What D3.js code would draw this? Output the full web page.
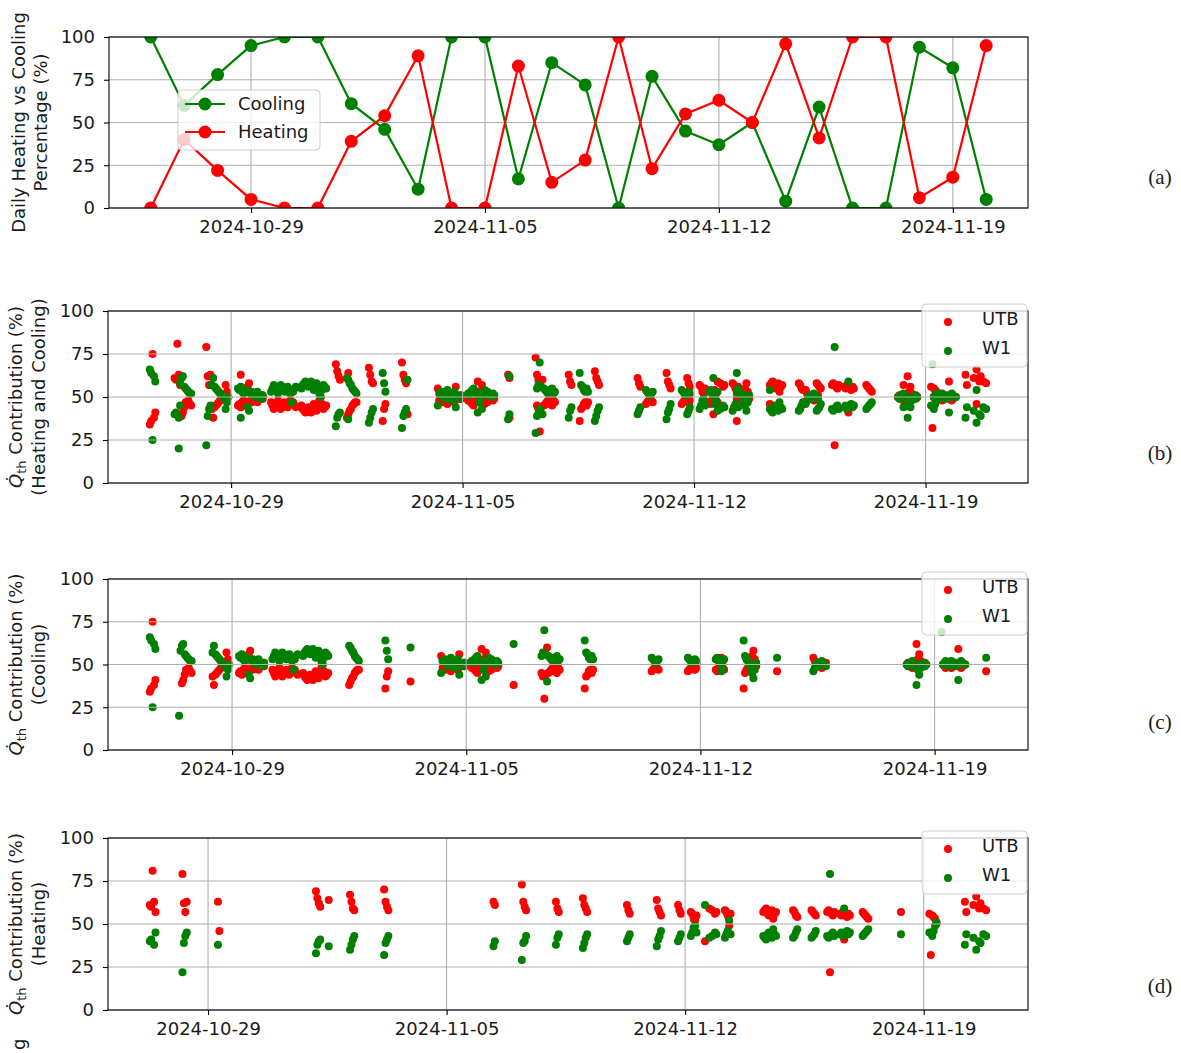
<!DOCTYPE html>
<html>
<head>
<meta charset="utf-8">
<script src="https://cdn.jsdelivr.net/npm/d3@7"></script>
<style>
  body { margin: 0; background: #fff; }
  svg { display: block; }
  text { font-family: "DejaVu Sans", sans-serif; fill: #1a1a1a; }
</style>
</head>
<body>
<svg id="fig" width="1181" height="1053"></svg>
<script>
// ---------- Daily share of heating vs cooling (%) ----------
const dailyDates = ["2024-10-26","2024-10-27","2024-10-28","2024-10-29","2024-10-30","2024-10-31",
  "2024-11-01","2024-11-02","2024-11-03","2024-11-04","2024-11-05","2024-11-06","2024-11-07",
  "2024-11-08","2024-11-09","2024-11-10","2024-11-11","2024-11-12","2024-11-13","2024-11-14",
  "2024-11-15","2024-11-16","2024-11-17","2024-11-18","2024-11-19","2024-11-20"];
const coolingPct = [100, 60, 78, 95, 100, 100, 61, 46, 11, 100, 100, 17, 85, 72, 0, 77, 45, 37, 50, 4, 59, 0, 0, 94, 82, 5];
const heatingPct = [0, 40, 22, 5, 0, 0, 39, 54, 89, 0, 0, 83, 15, 28, 100, 23, 55, 63, 50, 96, 41, 100, 100, 6, 18, 95];

// ---------- Hourly thermal contribution, cooling operation ----------
const coolDays = ["2024-10-26","2024-10-27","2024-10-28","2024-10-29","2024-10-30","2024-10-31",
  "2024-11-01","2024-11-02","2024-11-03","2024-11-04","2024-11-05","2024-11-06","2024-11-07",
  "2024-11-08","2024-11-10","2024-11-11","2024-11-12","2024-11-13","2024-11-14","2024-11-15",
  "2024-11-18","2024-11-19","2024-11-20"];
const coolHours = [
  [13,14,15,16,17],
  [10,11,12,13,14,15,16,17,18,19],
  [10,11,12,13,14,15,16,17,18,19,20,21,22],
  [5,6,7,8,9,10,11,12,13,14,15,16,17,18,19,20,21,22,23],
  [5,6,7,8,9,10,11,12,13,14,15,16,17,18,19,20,21,22,23],
  [3,4,5,6,7,8,9,10,11,12,13,14,15,16,17,18,19,20,21],
  [12,13,14,15,16,17,18,19],
  [14,15,16],
  [8],
  [6,7,8,9,10,11,12,13,14,15,16,17,18,19,20,21,22,23],
  [4,5,6,7,8,9,10,11,12,13,14,15,16,17,18,19,20,21,22,23],
  [10],
  [6,7,8,9,10,11,12,13,14,15,16,17,18,19],
  [13,14,15,16,17,18,19],
  [13,14,15,16,17,18],
  [15,16,17,18,19,20,21],
  [11,12,13,14,15,16,17],
  [7,8,9,10,11,12,13,14,15,16],
  [7],
  [9,10,11,12,13,14,15,16,17,18],
  [4,5,6,7,8,9,10,11,12,13,14,15,16,17,18],
  [5,6,7,8,9,10,11,12,13,14,15,16,17,18,19,20,21,22],
  [13]
];
const coolUTB = [
  [34,36,75,38,41],
  [null,null,39,41,44,47,47,48,46,45],
  [43,38,44,45,46,47,48,49,50,51,57,53,50],
  [45,46,44,47,48,47,46,56,58,48,47,49,50,48,47,49,50,51,49],
  [47,45,43,44,46,48,45,43,44,46,47,45,44,46,48,53,47,45,44],
  [45,43,42,41,43,44,42,41,44,46,43,42,45,48,50,46,43,44,45],
  [38,40,42,43,45,46,47,47],
  [36,43,46],
  [40],
  [55,48,49,47,50,51,48,46,49,50,52,48,47,56,49,50,51,49],
  [48,49,47,46,45,47,48,59,53,50,57,48,46,49,47,48,49,50,48,49],
  [38],
  [45,43,30,44,60,45,46,47,48,46,47,45,48,47],
  [36,43,44,46,47,45,47],
  [46,47,48,49,48,47],
  [46,47,48,49,48,47,48],
  [47,46,48,49,54,52,47],
  [36,45,47,48,50,52,55,58,53,49],
  [46],
  [54,52,50,49,51,50,48,49,50,51],
  [50,51,49,50,48,51,50,62,53,56,52,50,49,51,50],
  [null,50,49,48,50,51,49,48,50,49,51,50,59,50,48,49,50,50],
  [46]
];
const coolW1 = [
  [66,64,25,62,59],
  [20,58,61,62,56,55,54,53,52,52],
  [57,61,56,55,54,53,52,51,50,49,43,47,50],
  [55,54,56,53,52,53,54,44,42,52,53,51,50,52,53,51,50,49,51],
  [53,55,57,56,54,52,55,57,56,54,53,55,56,54,52,47,53,55,56],
  [55,57,58,59,57,56,58,59,56,54,57,58,55,52,50,54,57,56,55],
  [61,60,58,57,55,54,53,52],
  [64,58,53],
  [60],
  [45,52,51,53,50,49,52,54,51,50,48,52,53,44,51,50,49,51],
  [52,51,53,54,55,53,52,41,47,50,43,52,54,51,53,52,51,50,52,51],
  [62],
  [55,57,70,56,40,55,54,53,52,54,53,55,52,53],
  [64,57,56,54,53,55,53],
  [54,53,52,51,52,53],
  [54,53,52,51,52,53,52],
  [53,54,52,51,46,48,53],
  [64,55,53,52,50,48,45,42,47,51],
  [54],
  [46,48,50,51,49,50,52,51,50,49],
  [50,49,51,50,52,49,50,38,47,44,48,50,51,49,50],
  [69,50,51,52,50,49,51,52,50,51,49,50,41,50,52,51,50,50],
  [54]
];

// ---------- Hourly thermal contribution, heating operation ----------
const heatDays = ["2024-10-27","2024-10-28","2024-10-29","2024-11-01","2024-11-02","2024-11-03",
  "2024-11-06","2024-11-07","2024-11-08","2024-11-09","2024-11-10","2024-11-11","2024-11-11",
  "2024-11-12","2024-11-12","2024-11-13","2024-11-14","2024-11-15","2024-11-15","2024-11-16",
  "2024-11-16","2024-11-17","2024-11-18","2024-11-19","2024-11-20"];
const heatHours = [
  [7,8,9,10,11],
  [6,7,8,9],
  [7,8],
  [4,5,6,7,13],
  [4,5,6,7],
  [4,5,6,7],
  [9,10],
  [5,6,7,8],
  [5,6,7],
  [0,1,2,3],
  [7,8,9],
  [4,5,6,7],
  [19,20,21],
  [4,5,6,7,8],
  [14,17,19,21,22],
  [4,5,6,7,8],
  [7,8,9,10,11,12,13,14,15,16],
  [4,5,6,7],
  [17,18,19,20],
  [4,5,6,7,8,9],
  [13,14,15,16,17,18,19,20],
  [5,6,7,8,9],
  [8],
  [4,5,6,7,8,9],
  [5,6,11,13,15,16,18,20]
];
const heatUTB = [
  [61,60,81,63,57],
  [79,62,57,63],
  [63,46],
  [69,65,62,60,64],
  [67,63,59,58],
  [70,63,60,58],
  [63,61],
  [73,63,60,58],
  [63,59,57],
  [65,61,59,57],
  [61,58,56],
  [64,59,57,55],
  [61,58,56],
  [57,56,53,52,55],
  [40,59,58,56,57],
  [58,57,55,49,56],
  [57,58,59,56,55,57,58,53,56,57],
  [58,57,55,54],
  [58,57,56,55],
  [57,58,22,56,55,57],
  [56,55,57,41,55,54,56,55],
  [57,56,55,54,53],
  [57],
  [56,32,55,54,53,50],
  [63,57,61,66,59,62,59,58]
];
const heatW1 = [
  [40,41,null,38,45],
  [22,39,43,45],
  [38,null],
  [33,38,40,41,37],
  [35,38,41,43],
  [32,39,41,43],
  [37,40],
  [29,39,40,43],
  [38,42,44],
  [36,39,42,44],
  [40,42,44],
  [37,41,43,46],
  [40,42,44],
  [43,45,48,49,45],
  [61,42,43,45,44],
  [42,44,46,52,44],
  [43,42,41,44,45,43,42,47,44,43],
  [42,43,45,47],
  [42,43,44,46],
  [43,42,79,44,45,43],
  [44,45,43,59,45,46,44,45],
  [43,44,45,46,47],
  [44],
  [45,null,43,46,49,51],
  [38,44,42,35,40,39,44,43]
];

const tickDates = ["2024-10-29","2024-11-05","2024-11-12","2024-11-19"];
const yTicks = [0, 25, 50, 75, 100];
const seriesNames = ["UTB", "W1"];
const panelTags = ["(a)", "(b)", "(c)", "(d)"];

// ---------- helpers ----------
const RED = "#ff0000", GREEN = "#008000", GRID = "#b0b0b0";
const FS = 18;          // base font size
const DOT = 4;          // scatter marker radius
const parseDay = d3.utcParse("%Y-%m-%d");
const fmtDay = d3.utcFormat("%Y-%m-%d");
const HOUR = 3600e3;

function hourlyRecords(days, hours, utb, w1) {
  const out = [];
  days.forEach((d, i) => {
    const base = parseDay(d).getTime();
    hours[i].forEach((h, j) => {
      out.push({ t: new Date(base + h * HOUR), utb: utb[i][j], w1: w1[i][j] });
    });
  });
  return out;
}
const coolRecs = hourlyRecords(coolDays, coolHours, coolUTB, coolW1);
const heatRecs = hourlyRecords(heatDays, heatHours, heatUTB, heatW1);
const allRecs = coolRecs.concat(heatRecs);

function paddedDomain(times) {
  const [lo, hi] = d3.extent(times);
  const m = (hi - lo) * 0.05;
  return [new Date(lo.getTime() - m), new Date(hi.getTime() + m)];
}

const svg = d3.select("#fig");
let clipId = 0;

function frame(p, x, y) {
  const g = svg.append("g");
  g.selectAll("line.gx").data(tickDates.map(parseDay)).join("line")
    .attr("x1", d => x(d)).attr("x2", d => x(d)).attr("y1", p.top).attr("y2", p.bottom)
    .attr("stroke", GRID).attr("stroke-width", 1.1);
  g.selectAll("line.gy").data(yTicks).join("line")
    .attr("x1", p.left).attr("x2", p.right).attr("y1", d => y(d)).attr("y2", d => y(d))
    .attr("stroke", GRID).attr("stroke-width", 1.1);
  return g;
}

function axes(p, x, y) {
  const g = svg.append("g");
  const ax = d3.axisBottom(x).tickValues(tickDates.map(parseDay)).tickFormat(fmtDay)
    .tickSize(5).tickPadding(7);
  const gx = g.append("g").attr("transform", `translate(0,${p.bottom})`).call(ax);
  const ay = d3.axisLeft(y).tickValues(yTicks).tickSize(5).tickPadding(9);
  const gy = g.append("g").attr("transform", `translate(${p.left},0)`).call(ay);
  [gx, gy].forEach(s => {
    s.select(".domain").remove();
    s.selectAll("line").attr("stroke", "#000").attr("stroke-width", 1.1);
    s.selectAll("text").attr("font-size", FS).attr("font-family", "DejaVu Sans").attr("fill", "#1a1a1a");
  });
  g.append("rect").attr("x", p.left).attr("y", p.top)
    .attr("width", p.right - p.left).attr("height", p.bottom - p.top)
    .attr("fill", "none").attr("stroke", "#000").attr("stroke-width", 1.1);
}

function clip(p) {
  const id = "clip" + (clipId++);
  svg.append("clipPath").attr("id", id).append("rect")
    .attr("x", p.left).attr("y", p.top).attr("width", p.right - p.left).attr("height", p.bottom - p.top);
  return `url(#${id})`;
}

function qLabel(p, second) {
  const cy = (p.top + p.bottom) / 2;
  const t = svg.append("text").attr("transform", `translate(22,${cy}) rotate(-90)`)
    .attr("text-anchor", "middle").attr("font-size", FS);
  t.append("tspan").attr("font-style", "italic").text("Q\u0307");
  t.append("tspan").attr("font-size", 13).attr("dy", 4).text("th");
  t.append("tspan").attr("dy", -4).text(" Contribution (%)");
  svg.append("text").attr("transform", `translate(45,${cy}) rotate(-90)`)
    .attr("text-anchor", "middle").attr("font-size", FS).text(second);
}

function scatterLegend(x0, y0) {
  const g = svg.append("g");
  g.append("rect").attr("x", x0).attr("y", y0).attr("width", 105).attr("height", 63).attr("rx", 4)
    .attr("fill", "#fff").attr("fill-opacity", 0.8).attr("stroke", "#d0d0d0");
  [[seriesNames[0], RED, 15], [seriesNames[1], GREEN, 44]].forEach(([name, col, dy]) => {
    g.append("circle").attr("cx", x0 + 26).attr("cy", y0 + dy + 3).attr("r", DOT).attr("fill", col);
    g.append("text").attr("x", x0 + 60).attr("y", y0 + dy).attr("dy", "0.35em")
      .attr("font-size", FS).text(name);
  });
}

function scatterPanel(p, recs, second, legendTop) {
  const x = d3.scaleUtc().domain(paddedDomain(recs.map(r => r.t))).range([p.left, p.right]);
  const y = d3.scaleLinear().domain([0, 100]).range([p.bottom, p.top]);
  const cp = clip(p);
  const pts = svg.append("g").attr("clip-path", cp);
  pts.selectAll("circle.u").data(recs.filter(r => r.utb != null)).join("circle")
    .attr("cx", r => x(r.t)).attr("cy", r => y(r.utb)).attr("r", DOT).attr("fill", RED);
  pts.selectAll("circle.w").data(recs.filter(r => r.w1 != null)).join("circle")
    .attr("cx", r => x(r.t)).attr("cy", r => y(r.w1)).attr("r", DOT).attr("fill", GREEN);
  frame(p, x, y);
  axes(p, x, y);
  qLabel(p, second);
  scatterLegend(922, legendTop);
}

// ---------- (a) daily heating vs cooling ----------
const pa = { left: 109, right: 1028, top: 37, bottom: 208 };
{
  const dates = dailyDates.map(parseDay);
  const x = d3.scaleUtc().domain(paddedDomain(dates)).range([pa.left, pa.right]);
  const y = d3.scaleLinear().domain([0, 100]).range([pa.bottom, pa.top]);
  frame(pa, x, y);
  const cp = clip(pa);
  const g = svg.append("g").attr("clip-path", cp);
  [[coolingPct, GREEN], [heatingPct, RED]].forEach(([vals, col]) => {
    const pts = dates.map((d, i) => [x(d), y(vals[i])]);
    g.append("path").attr("d", d3.line()(pts)).attr("fill", "none")
      .attr("stroke", col).attr("stroke-width", 2.2);
    g.selectAll(null).data(pts).join("circle")
      .attr("cx", d => d[0]).attr("cy", d => d[1]).attr("r", 6.5).attr("fill", col);
  });
  axes(pa, x, y);
  const cy = (pa.top + pa.bottom) / 2;
  svg.append("text").attr("transform", `translate(25,${cy}) rotate(-90)`)
    .attr("text-anchor", "middle").attr("font-size", FS).text("Daily Heating vs Cooling");
  svg.append("text").attr("transform", `translate(47,${cy}) rotate(-90)`)
    .attr("text-anchor", "middle").attr("font-size", FS).text("Percentage (%)");
  const lg = svg.append("g");
  lg.append("rect").attr("x", 178).attr("y", 90).attr("width", 142).attr("height", 60).attr("rx", 4)
    .attr("fill", "#fff").attr("fill-opacity", 0.8).attr("stroke", "#d0d0d0");
  [["Cooling", GREEN, 104], ["Heating", RED, 132]].forEach(([name, col, yy]) => {
    lg.append("line").attr("x1", 185).attr("x2", 225).attr("y1", yy).attr("y2", yy)
      .attr("stroke", col).attr("stroke-width", 2.2);
    lg.append("circle").attr("cx", 205).attr("cy", yy).attr("r", 6.5).attr("fill", col);
    lg.append("text").attr("x", 238).attr("y", yy).attr("dy", "0.35em").attr("font-size", FS).text(name);
  });
}

// ---------- (b)-(d) hourly contribution scatter ----------
scatterPanel({ left: 108, right: 1028, top: 311, bottom: 483 }, allRecs, "(Heating and Cooling)", 304);
scatterPanel({ left: 108, right: 1028, top: 579, bottom: 750 }, coolRecs, "(Cooling)", 572);
scatterPanel({ left: 108, right: 1028, top: 838, bottom: 1010 }, heatRecs, "(Heating)", 831);

// panel tags
[177, 453, 722, 986].forEach((yy, i) => {
  svg.append("text").attr("x", 1160).attr("y", yy).attr("dy", "0.35em").attr("text-anchor", "middle")
    .style("font-family", "'Liberation Serif', serif").attr("font-size", 21).text(panelTags[i]);
});

// trailing glyph of the next panel's axis title, at the page edge
svg.append("text").attr("transform", "translate(25,1050) rotate(-90)")
  .attr("text-anchor", "start").attr("font-size", FS).text("g");
</script>
</body>
</html>
